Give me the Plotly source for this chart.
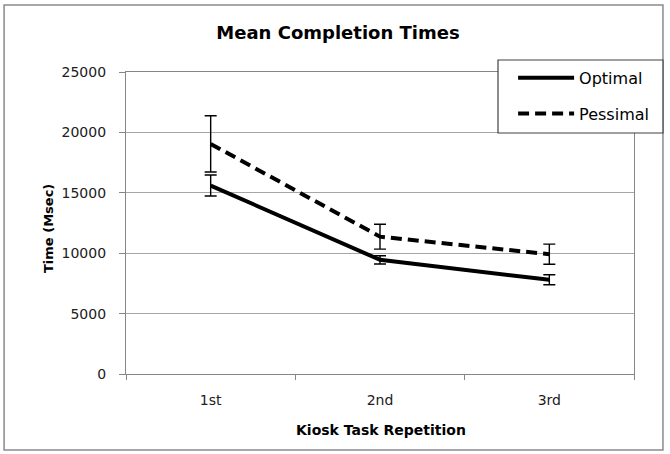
import plotly.graph_objects as go

categories = ["1st", "2nd", "3rd"]
optimal = [15600, 9450, 7800]
optimal_err = [870, 345, 415]
pessimal = [19050, 11370, 9920]
pessimal_err = [2330, 1030, 830]
y_ticks = [0, 5000, 10000, 15000, 20000, 25000]

FONT = "DejaVu Sans"

fig = go.Figure()
fig.add_trace(go.Scatter(
    x=categories, y=optimal, name="Optimal", mode="lines",
    line=dict(color="black", width=4),
    error_y=dict(type="data", array=optimal_err, color="black", thickness=1.4, width=6),
    legendgroup="a",
))
fig.add_trace(go.Scatter(
    x=categories, y=pessimal, name="Pessimal", mode="lines",
    line=dict(color="black", width=4, dash="11px,6px"),
    error_y=dict(type="data", array=pessimal_err, color="black", thickness=1.4, width=6),
    legendgroup="b",
))

# outer chart border
fig.add_shape(type="rect", xref="paper", yref="paper",
              x0=-0.240, x1=1.057, y0=-0.2517, y1=1.2219,
              line=dict(color="#8a8a8a", width=1.5), fillcolor="rgba(0,0,0,0)", layer="below")
# legend box
fig.add_shape(type="rect", xref="paper", yref="paper",
              x0=0.7323, x1=1.057, y0=0.798, y1=1.0397,
              line=dict(color="#404040", width=1.2), fillcolor="white", layer="above")

# axis titles
fig.add_annotation(text="<b>Time (Msec)</b>", xref="paper", yref="paper",
                   x=(48 - 126) / 508, y=(374 - 229) / 302, textangle=-90,
                   xanchor="center", yanchor="middle", showarrow=False,
                   font=dict(family=FONT, size=13, color="black"))
fig.add_annotation(text="<b>Kiosk Task Repetition</b>", xref="paper", yref="paper",
                   x=(381 - 126) / 508, y=(374 - 430) / 302,
                   xanchor="center", yanchor="middle", showarrow=False,
                   font=dict(family=FONT, size=14, color="black"))

fig.update_layout(
    width=670, height=454,
    margin=dict(l=126, r=36, t=72, b=80),
    paper_bgcolor="white", plot_bgcolor="white",
    font=dict(family=FONT, color="#202020"),
    title=dict(text="<b>Mean Completion Times</b>", x=(338 / 670), xref="container",
               y=1 - 33 / 454, yanchor="middle", xanchor="center",
               font=dict(family=FONT, size=18, color="black")),
    showlegend=True,
    legend=dict(x=0.762, y=1.037, xanchor="left", yanchor="top",
                bgcolor="rgba(0,0,0,0)", borderwidth=0,
                font=dict(family=FONT, size=16, color="black"),
                tracegroupgap=12, traceorder="grouped", itemwidth=56),
    xaxis=dict(
        type="category", range=[-0.5, 2.5],
        showgrid=False, showline=True, linecolor="#868686", linewidth=1.3, mirror=True,
        ticks="outside", tickson="boundaries", ticklen=5, tickcolor="#868686",
        ticklabelstandoff=13,
        tickfont=dict(family=FONT, size=14, color="#202020"),
    ),
    yaxis=dict(
        range=[0, 25000], tickvals=y_ticks, ticktext=[str(v) for v in y_ticks],
        showgrid=True, gridcolor="#a6a6a6", gridwidth=1,
        showline=True, linecolor="#868686", linewidth=1.3, mirror=True,
        ticks="outside", ticklen=6, tickcolor="#868686", zeroline=False,
        ticklabelstandoff=10,
        tickfont=dict(family=FONT, size=14, color="#202020"),
    ),
)

fig.write_html("out.html", config={"displayModeBar": False},
               post_script="document.body.style.margin='0';")
